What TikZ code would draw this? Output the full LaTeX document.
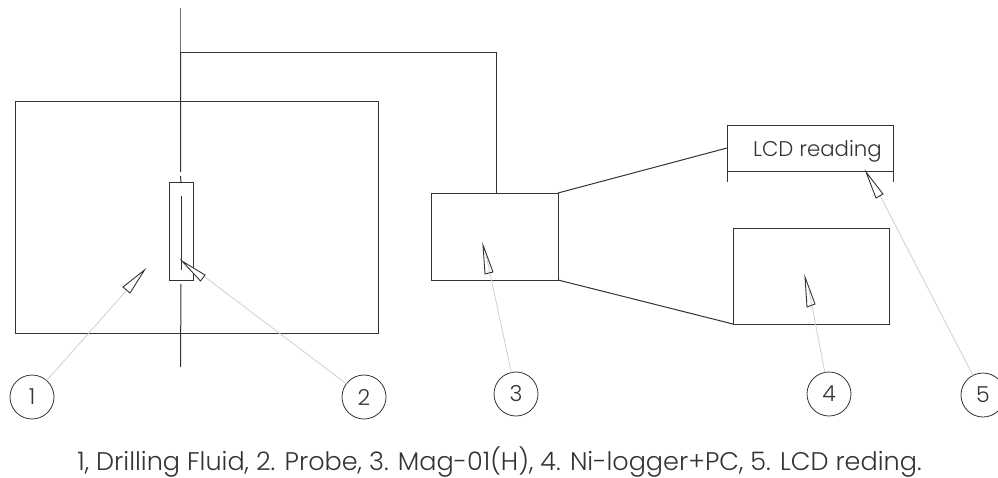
\documentclass[tikz,border=0pt]{standalone}
\usepackage{fontspec}
\setmainfont{Poppins Light}[BoldFont={Poppins}]
\definecolor{ink}{HTML}{333333}
\definecolor{leadgrey}{HTML}{CFCFCF}
\tikzset{
  x=1pt,y=-1pt,
  box/.style={draw=ink,line width=1pt,rectangle,inner sep=0pt,outer sep=0pt},
  wire/.style={draw=ink,line width=1pt},
  pointer/.style={draw=ink,line width=0.9pt,fill=white,line join=miter},
  leader/.style={draw=leadgrey,line width=0.8pt},
  balloon/.style={draw=ink,line width=0.8pt,circle,minimum size=44pt,inner sep=0pt,outer sep=0pt,font=\fontsize{22}{26}\selectfont,text=ink},
}
\begin{document}
\begin{tikzpicture}
\useasboundingbox (0,0) rectangle (998,477);
\clip (0,0) rectangle (998,477);
% boxes
\node[box,minimum width=363pt,minimum height=232pt] (fluid) at (196.5,217) {};
\node[box,minimum width=24pt,minimum height=98pt] (probe) at (181,231) {};
\node[box,minimum width=127pt,minimum height=87pt] (mag) at (494.5,236.5) {};
\node[box,minimum width=156pt,minimum height=96pt] (logger) at (811,276) {};
\node[box,draw=none,minimum width=166pt,minimum height=46pt] (lcd) at (810,148) {};
\node[font=\fontsize{21.3}{25}\selectfont,text=ink,anchor=base east,inner sep=0pt] (lcdtext) at (882,156.5) {LCD reading};
% lcd outline
\draw[wire] (lcd.south west) ++(0,11) -- (lcd.north west) -- (lcd.north east) -- ++(0,57);
\draw[wire] (lcd.south west) -- (lcd.south east);
% centre line
\coordinate (ctop) at (180.5,8);
\coordinate (cbot) at (180.5,367);
\coordinate (cjoin) at (180.5,52);
\draw[draw=ink!70,line width=1pt] (ctop) -- (cjoin);
\draw[wire] (cjoin) -- (180.5,172) (180.5,176) -- (probe.north);
\draw[wire] (probe.south) ++(0,4) -- (cbot);
\draw[wire,line width=1.1pt] (181.5,196) -- (181.5,270);
% connections
\coordinate (magtop) at (mag.north -| 496,0);
\draw[wire] (cjoin) -- (cjoin -| magtop) -- (mag.north -| magtop);
\draw[wire] (mag.north east) -- (lcd.west);
\draw[wire] (mag.south east) -- (logger.south west);
% balloons
\node[balloon] (c1) at (32,397) {1};
\node[balloon] (c2) at (364,397) {2};
\node[balloon] (c3) at (516,394) {3};
\node[balloon] (c4) at (829,394) {4};
\node[balloon] (c5) at (983,395) {5};
% leaders
\coordinate (t1) at (127,290);
\coordinate (t2) at (193,268);
\coordinate (t3) at (485,250);
\coordinate (t4) at (809,290);
\coordinate (t5) at (872,180);
\draw[leader] (t1) -- (c1);
\draw[leader] (t2) -- (c2);
\draw[leader] (t3) -- (c3);
\draw[leader] (t4) -- (c4);
\draw[leader] (t5) -- (c5);
% pointers
\draw[pointer] (144.5,270) -- (123,287) -- (130,293) -- cycle;
\draw[pointer] (182,261) -- (205,275) -- (200.5,281) -- cycle;
\draw[pointer,fill=none] (483,245) -- (493,272) -- (485,274) -- cycle;
\draw[pointer,fill=none] (805,277) -- (815,304) -- (807,307) -- cycle;
\draw[pointer] (866,172) -- (883,194) -- (876,198) -- cycle;
% caption
\node[font=\fontsize{25.5}{30}\selectfont,text=ink,inner sep=0pt,anchor=base] (caption) at (499.5,470) {1, Drilling Fluid, 2. Probe, 3. Mag-01(H), 4. Ni-logger+PC, 5. LCD reding.};
\end{tikzpicture}
\end{document}
